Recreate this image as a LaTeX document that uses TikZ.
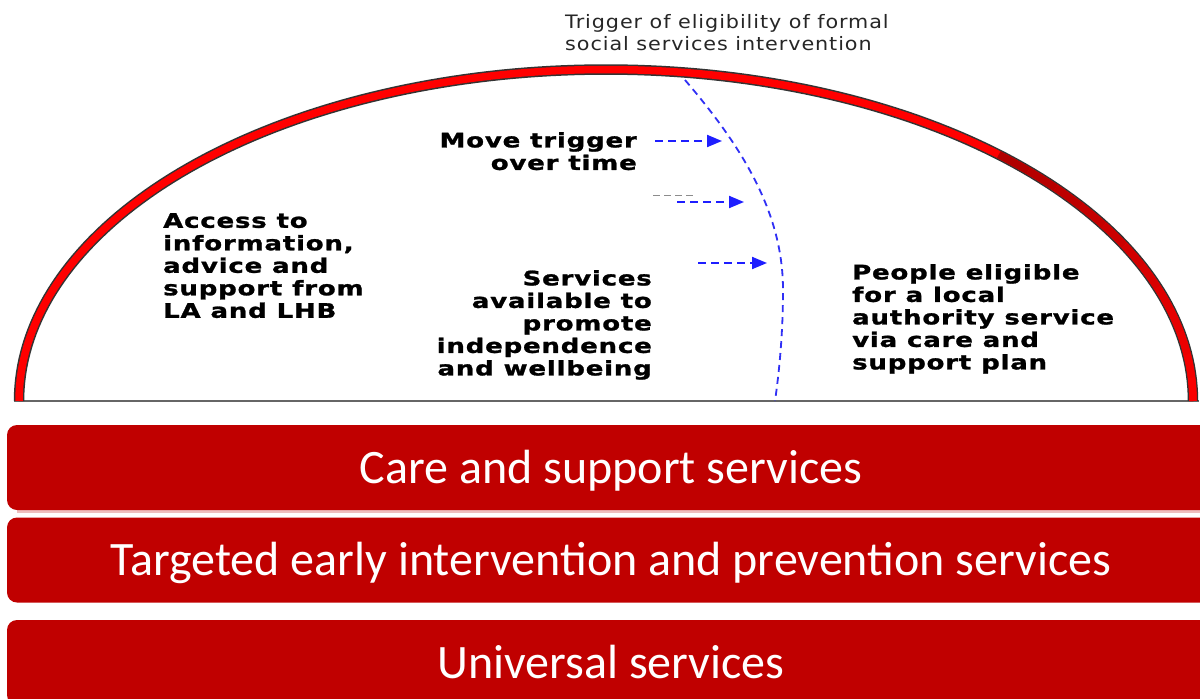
\documentclass[tikz,border=0pt]{standalone}
\usepackage{fontspec}
\usetikzlibrary{arrows.meta}
\newfontfamily\barfont{Carlito}
\newfontfamily\wideb[FakeStretch=1.3,LetterSpace=4,FakeBold=1.3]{DejaVu Sans Bold}
\newfontfamily\wider[FakeStretch=1.12,LetterSpace=5]{DejaVu Sans}
\definecolor{barred}{HTML}{C00000}
\definecolor{arcred}{HTML}{FF0000}
\definecolor{arcdark}{HTML}{B00000}
\definecolor{trigblue}{HTML}{3030F5}
\definecolor{arrowblue}{HTML}{1E1EFF}
\definecolor{labelgray}{HTML}{262626}
\tikzset{
  bar/.style={fill=barred, rounded corners=10pt, minimum width=1208pt, minimum height=85pt,
    inner sep=0pt, text=white, font=\barfont\fontsize{48}{52}\selectfont,
    text height=31pt, text depth=0pt},
  boldlbl/.style={inner sep=0pt, text=black, font=\wideb\fontsize{20}{22.5}\selectfont},
  toplbl/.style={inner sep=0pt, text=labelgray, font=\wider\fontsize{18.5}{22}\selectfont},
  trigline/.style={draw=trigblue, line width=1.8pt, dash pattern=on 7pt off 5pt},
  movearrow/.style={draw=arrowblue, line width=2pt, dash pattern=on 8pt off 5pt,
    -{Triangle[length=15pt,width=12pt,fill=arrowblue]}},
}
\begin{document}
\begin{tikzpicture}[x=1pt,y=-1pt]
\useasboundingbox (0,0) rectangle (1200,699);
\fill[white] (0,0) rectangle (1200,699);

% bars
\fill[barred!25] (17,508) rectangle (1200,512.5);
\node[bar] (care) at (611,467.5) {Care and support services};
\node[bar] (targeted) at (611,560) {Targeted early intervention and prevention services};
\node[bar] (universal) at (611,662.5) {Universal services};

% base line
\draw[line width=2.2pt, black!60] (14,401) -- (1199,401);

% dome
\draw[line width=10.5pt, black!80] plot[domain=180:360, samples=150] ({606+587*cos(\x)},{401+331.5*sin(\x)});
\draw[line width=7.5pt, arcred] plot[domain=180:360, samples=150] ({606+587*cos(\x)},{401+331.5*sin(\x)});
\foreach \i in {0,...,11}{
  \pgfmathsetmacro\s{312+4*\i}
  \pgfmathsetmacro\e{316+4*\i}
  \pgfmathsetmacro\p{100-8.5*\i}
  \draw[line width=7.5pt, arcdark!\p!arcred] plot[domain=\s:\e, samples=6] ({606+587*cos(\x)},{401+331.5*sin(\x)});
}

% trigger line
\coordinate (trigtop) at (685,80);
\coordinate (trigbot) at (775,401);
\draw[trigline] (trigtop) .. controls (745,150) and (783,215) .. (783,290) .. controls (783,340) and (778,380) .. (trigbot);

% arrows
\coordinate (a1s) at (655,141);
\coordinate (a1e) at (722,141);
\coordinate (a2s) at (677,202);
\coordinate (a2e) at (744,202);
\coordinate (a3s) at (698,263);
\coordinate (a3e) at (767,263);
\coordinate (g1) at (653,195.5);
\coordinate (g2) at (693,195.5);
\draw[black!45, line width=1.5pt, dash pattern=on 7pt off 4pt] (g1) -- (g2);
\draw[movearrow] (a1s) -- (a1e);
\draw[movearrow] (a2s) -- (a2e);
\draw[movearrow] (a3s) -- (a3e);

% labels
\node[toplbl, anchor=north west, align=left] (triglbl) at (565,14) {Trigger of eligibility of formal\\social services intervention};
\node[boldlbl, anchor=north east, align=right] (move) at (637,132) {Move trigger\\over time};
\node[boldlbl, anchor=north west, align=left] (access) at (163,213) {Access to\\information,\\advice and\\support from\\LA and LHB};
\node[boldlbl, anchor=north east, align=right] (serv) at (652,270) {Services\\available to\\promote\\independence\\and wellbeing};
\node[boldlbl, anchor=north west, align=left] (people) at (852,264) {People eligible\\for a local\\authority service\\via care and\\support plan};
\end{tikzpicture}
\end{document}
